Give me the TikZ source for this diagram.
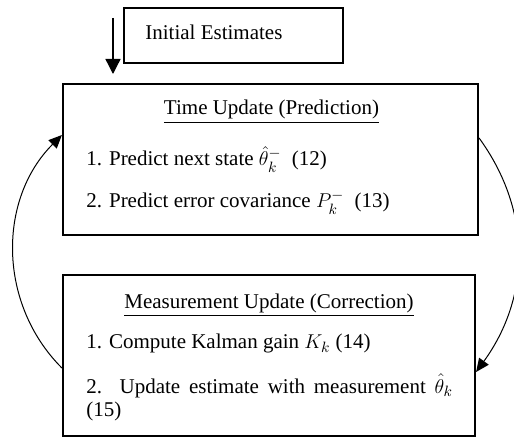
\documentclass[tikz,border=0pt]{standalone}
\usepackage{fontspec}
\setmainfont{Liberation Serif}
\usepackage{amsmath}
\usepackage{tikz}
\usetikzlibrary{arrows.meta}

\begin{document}
\begin{tikzpicture}[
    x=0.6pt, y=0.6pt,
    font=\fontsize{12.6}{14.4}\selectfont,
    box/.style={draw, line width=1.3pt, inner sep=0pt},
    title/.style={anchor=base, inner sep=0pt},
    item/.style={anchor=base west, inner sep=0pt},
    arrow/.style={-{Triangle[length=8pt, width=7pt]}, line width=0.6pt}
]
\useasboundingbox (0,0) rectangle (514,-437);
\node[box, line width=0.8pt, minimum width=131.4pt, minimum height=33pt] (init) at (233.5,-35.5) {};
\node[item] (initText) at (145,-39.5) {Initial Estimates};
\node[box, minimum width=249pt, minimum height=90.6pt] (time) at (270.5,-159.5) {};
\node[box, minimum width=247.2pt, minimum height=96.6pt] (meas) at (269,-355.5) {};

\node[title] (timeTitle) at (271.5,-115) {\underline{Time Update (Prediction)}};
\node[item] (timeOne) at (86,-166) {1. Predict next state $\hat{\theta}_k^{-}$\ \ (12)};
\node[item] (timeTwo) at (86,-208) {2. Predict error covariance $P_k^{-}$\ \ (13)};

\node[title] (measTitle) at (269,-308) {\underline{Measurement Update (Correction)}};
\node[item] (measOne) at (86,-349) {1. Compute Kalman gain $K_k$ (14)};
\node[item] (measTwo) at (86,-393) {\parbox[t]{220pt}{2. Update estimate with measurement $\hat{\theta}_k$\linebreak (15)}};

% initial estimates enter the loop
\coordinate (inTop) at (113,-18);
\coordinate (inTip) at (113,-74);
\draw[arrow, -{Triangle[length=9pt, width=9pt]}, line width=0.8pt] (inTop) -- (inTip);

\draw[arrow] ([yshift=12.9pt]time.east) to[out=-54, in=54] ([yshift=-9.9pt]meas.east);
\draw[arrow] ([yshift=-7.5pt]meas.west) to[out=135, in=-135] ([yshift=14.7pt]time.west);
\end{tikzpicture}
\end{document}
